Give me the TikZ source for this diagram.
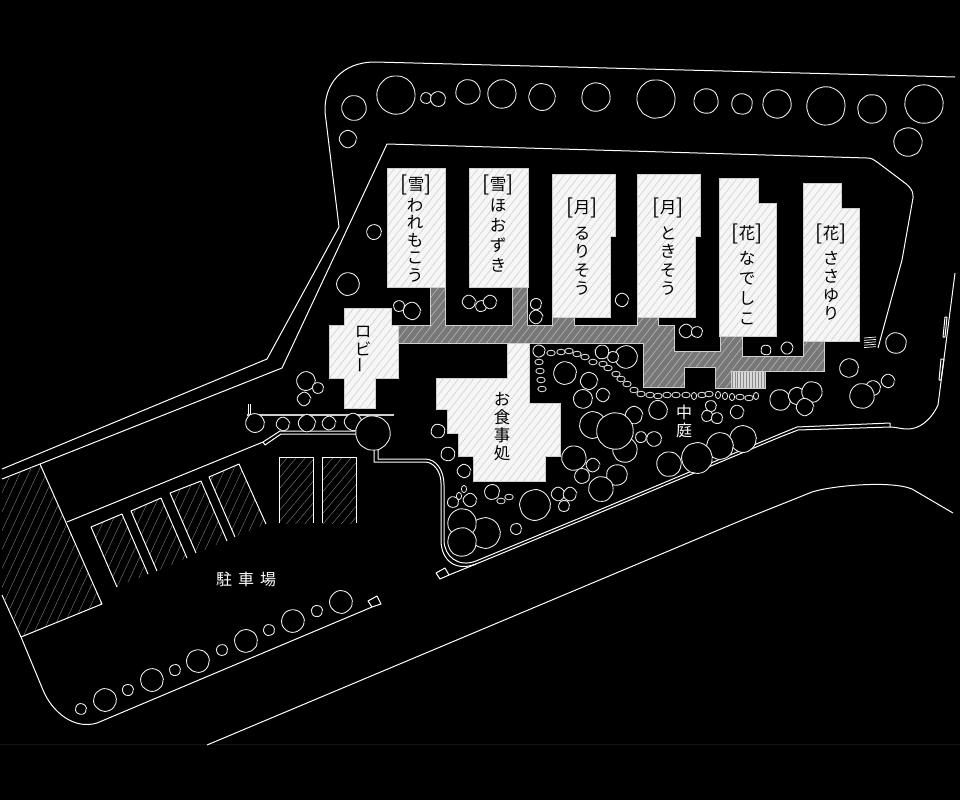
\documentclass[tikz,border=0pt]{standalone}
\usepackage{fontspec}
\setmainfont{Noto Sans CJK JP}
\usetikzlibrary{patterns.meta, decorations.pathmorphing}

\definecolor{wing}{HTML}{F6F6F6}
\definecolor{wingline}{HTML}{CFCFCF}
\definecolor{walk}{HTML}{777777}
\definecolor{walkline}{HTML}{B0B0B0}

\tikzset{
	wall/.style = {draw = white, line width = 1pt, line join = round},
	tree/.style = {draw = white!92!black, fill = black, line width = 0.9pt, rounded corners = 1pt,
		decorate, decoration = {random steps, segment length = 2.8pt, amplitude = 0.3pt}},
	stone/.style = {draw = white!92!black, fill = black, line width = 0.8pt},
	wing/.style = {draw = wingline, line width = 0.9pt,
		preaction = {fill = wing},
		pattern = {Lines[angle = 52, distance = 6pt, line width = 0.6pt]}, pattern color = wingline},
	walk/.style = {draw = wingline, line width = 0.9pt,
		preaction = {fill = walk},
		pattern = {Lines[angle = 52, distance = 6pt, line width = 0.7pt]}, pattern color = walkline},
	stall/.style = {pattern = {Lines[angle = 65, distance = 8pt, line width = 0.4pt]}, pattern color = gray},
	stallb/.style = {pattern = {Lines[angle = 50, distance = 7pt, line width = 0.4pt]}, pattern color = gray},
	label/.style = {text = black, font = \fontsize{16.5}{17.5}\selectfont, inner sep = 0pt, align = center},
	yard/.style = {text = white, font = \fontsize{16}{18}\selectfont, inner sep = 0pt, align = center}
}

\newcommand{\vbar}{\rotatebox{90}{ー}}
\newcommand{\tag}[1]{{\fontsize{21}{21}\selectfont\raisebox{-1pt}{[}}#1{\fontsize{21}{21}\selectfont\raisebox{-1pt}{]}}}

\begin{document}
\begin{tikzpicture}
[x = 1pt, y = -1pt]
\useasboundingbox (0, 0) rectangle (960, 800);
\fill [black] (0, 0) rectangle (960, 800);
\draw [black!92!white, line width = 0.4pt] (0, 744) -- (960, 744);

% site outline
\draw [wall] (955, 77) -- (375, 62) .. controls (342, 62) and (324, 84) .. (325, 112)
	-- (339, 227) -- (267, 359) -- (2, 469);
\draw [wall] (2, 479) -- (40, 464) -- (282, 368) -- (387, 144) -- (630, 151) -- (867, 158)
	.. controls (872, 158) and (874, 160) .. (877, 162) -- (897, 177)
	.. controls (906, 184) and (914, 188) .. (913, 198) -- (902, 260) -- (878, 348);
\draw [wall] (955, 273) -- (938, 405) .. controls (930, 422) and (918, 429) .. (908, 429)
	.. controls (900, 429) and (896, 427) .. (890, 427);
\draw [wall] (890, 423) -- (890, 427) -- (798, 430) -- (780, 437) -- (580, 521) -- (493, 557)
	-- (476, 564) .. controls (455, 572) and (441, 560) .. (441, 540) -- (441, 483)
	.. controls (441, 472) and (434, 462) .. (425, 462) -- (374, 462) -- (374, 448);
\draw [wall] (890, 423) -- (797, 427) -- (780, 434) -- (580, 518) -- (476, 561)
	.. controls (458, 568) and (444, 556) .. (444, 540) -- (444, 485)
	.. controls (444, 470) and (436, 459) .. (425, 459) -- (378, 459) -- (378, 448);
\draw [wall] (207, 745) -- (747, 518) -- (812, 492) .. controls (830, 486) and (890, 480) .. (912, 489)
	-- (953, 513);
\draw [wall] (2, 595) -- (21, 637) -- (43, 690) .. controls (52, 712) and (74, 730) .. (97, 723)
	-- (372, 607) -- (381, 604) -- (377, 596) -- (368, 601) -- (372, 607);
\draw [wall] (67, 522) -- (263, 442) -- (280, 431) -- (355, 431);
\draw [wall] (265, 445) -- (281, 434) -- (356, 434);
\draw [wall] (263, 442) -- (265, 445);
\draw [wall] (436, 573) -- (440, 579) -- (449, 575) -- (445, 568) -- cycle;
\draw [wall] (449, 575) -- (476, 564);
\draw [wall] (945, 317) -- (947, 317) -- (945, 337) -- (943, 337) -- cycle;
\draw [wall] (941, 359) -- (944, 359) -- (941, 380) -- (939, 380) -- cycle;
\draw [wall] (248, 404) -- (248, 415);
\draw [wall] (250, 404) -- (250, 415);
\draw [draw = wingline, line width = 2.8pt] (247, 415) -- (394, 415);

% parking
\fill [stall] (40, 464) -- (102, 604) -- (21, 637) -- (2, 595) -- (2, 479) -- cycle;
\draw [wall] (40, 464) -- (102, 604) -- (21, 637);
\foreach \a/\b/\c/\d/\e/\f/\g/\h in {91/527/122/514/148/574/117/587, 131/511/161/498/187/558/157/571,
	170/493/201/481/227/541/196/553, 209/477/239/464/266/524/235/537}{
	\fill [stall] (\a, \b) -- (\c, \d) -- (\e, \f) -- (\g, \h) -- cycle;
	\draw [wall] (\g, \h) -- (\a, \b) -- (\c, \d) -- (\e, \f);
}
\foreach \a in {279, 322}{
	\fill [stallb] (\a, 457) rectangle (\a + 34, 523);
	\draw [wall] (\a, 523) -- (\a, 457) -- (\a + 34, 457) -- (\a + 34, 523);
}

% covered walk and wings
\path [walk] (398, 325) -- (430, 325) -- (430, 287) -- (445, 287) -- (445, 325) -- (512, 325)
	-- (512, 287) -- (527, 287) -- (527, 325) -- (552, 325) -- (552, 317) -- (574, 317) -- (574, 325)
	-- (637, 325) -- (637, 317) -- (658, 317) -- (658, 325) -- (674, 325) -- (674, 351) -- (720, 351)
	-- (720, 336) -- (742, 336) -- (742, 356) -- (803, 356) -- (803, 341) -- (824, 341) -- (824, 371)
	-- (731, 371) -- (731, 388) -- (715, 388) -- (715, 367) -- (684, 367) -- (684, 387) -- (643, 387)
	-- (643, 343) -- (398, 343) -- cycle;
\fill [white!85!black] (731, 372) rectangle (765, 388);
\foreach \i in {0,...,11}{
	\draw [black!45!white, line width = 0.7pt] (732 + \i * 2.9, 372) -- (732 + \i * 2.9, 388);
}
\draw [wingline, line width = 0.9pt] (731, 371.5) rectangle (765, 388);
\foreach \i in {0,...,4}{
	\draw [white, line width = 0.7pt] (864, 338 + \i * 2.4) -- (876, 337 + \i * 2.4);
}

\path [wing] (387, 168) rectangle (445, 287);
\path [wing] (469, 168) rectangle (528, 287);
\path [wing] (552, 174) -- (615, 174) -- (615, 236) -- (610, 236) -- (610, 317) -- (552, 317) -- cycle;
\path [wing] (637, 174) -- (700, 174) -- (700, 236) -- (695, 236) -- (695, 317) -- (637, 317) -- cycle;
\path [wing] (719, 178) -- (758, 178) -- (758, 203) -- (776, 203) -- (776, 336) -- (719, 336) -- cycle;
\path [wing] (803, 183) -- (841, 183) -- (841, 208) -- (859, 208) -- (859, 341) -- (803, 341) -- cycle;
\path [wing] (344, 308) -- (391, 308) -- (391, 325) -- (398, 325) -- (398, 378) -- (375, 378) -- (375, 408)
	-- (344, 408) -- (344, 378) -- (329, 378) -- (329, 325) -- (344, 325) -- cycle;
\path [wing] (507, 343) -- (529, 343) -- (529, 403) -- (560, 403) -- (560, 456) -- (545, 456) -- (545, 481)
	-- (473, 481) -- (473, 456) -- (458, 456) -- (458, 433) -- (447, 433) -- (447, 409) -- (436, 409)
	-- (436, 378) -- (507, 378) -- cycle;

% trees
\foreach \x/\y/\r in {354/108/12, 348/139/8, 396/95/19, 426/98/5, 438/99/7, 468/92/12, 502/94/14, 542/97/13,
	596/97/14, 656/99/19, 706/101/12, 742/104/10, 777/104/14, 826/106/19, 872/109/14, 924/104/19, 908/142/14,
	374/232/7, 348/284/11, 399/306/5, 412/311/8, 469/302/6, 481/306/5, 490/302/6, 536/304/5, 536/317/6, 622/300/6,
	686/331/6, 697/332/5, 766/350/4.5, 787/348/5.5, 896/343/10, 849/368/9, 888/381/6, 873/388/7, 862/396/12,
	780/400/10, 797/396/8, 812/392/10, 805/407/8, 306/381/9, 318/388/5, 304/399/6,
	255/423/9, 283/424/6, 307/423/8, 329/423/6, 353/422/8, 373/433/17,
	81/709/5, 105/700/11, 128/690/5, 152/680/11, 175/670/5, 198/661/11, 222/650/5, 246/641/11, 269/630/5, 293/621/11,
	317/611/5, 341/602/11,
	539/351/5.5, 602/352/6.5, 626/357/11, 613/357/5, 565/373/11, 589/381/8, 583/399/9, 603/395/6, 658/410/9, 634/415/8,
	593/425/13, 625/450/12, 615/431/18, 641/437/5, 654/439/7, 711/406/5, 707/416/5, 717/418/5, 737/412/6,
	743/439/13, 720/446/13, 669/464/12, 697/458/15, 574/458/12, 593/465/6, 582/476/7, 617/475/10, 601/489/12,
	535/505/15, 558/494/6, 570/494/6, 564/506/5, 438/431/6.5, 448/454/6.5, 464/471/6, 453/502/5, 470/500/6, 492/492/7,
	516/529/5, 485/533/15, 462/523/14, 462/542/14}{
	\draw [tree] (\x, \y) circle (\r);
}
\foreach \x/\y in {551/353, 561/352, 569/351, 577/354, 585/357, 593/362, 603/364, 608/368, 616/374, 621/379, 627/384,
	634/390, 641/394, 650/395, 658/396, 667/395, 676/395, 686/395, 702/395, 709/394, 740/397, 749/398,
	539/362, 540/371, 541/380, 542/389, 501/501, 509/497}{
	\draw [stone] (\x, \y) ellipse (4.2 and 2.8);
}
\foreach \x/\y in {694/396, 718/395, 725/396, 732/397, 756/396, 464/489, 459/496}{
	\draw [stone] (\x, \y) ellipse (2.6 and 3.6);
}

% labels
\node [label] (yuki1) at (416, 185) {\tag{雪}};
\node [label] (wareko) at (415, 240) {わ\\れ\\も\\こ\\う};
\node [label] (yuki2) at (498, 185) {\tag{雪}};
\node [label] (hoozuki) at (498, 236) {ほ\\[2.5pt]お\\[2.5pt]ず\\[2.5pt]き};
\node [label] (tsuki1) at (582, 208) {\tag{月}};
\node [label] (ruriso) at (582, 261) {る\\[1pt]り\\[1pt]そ\\[1pt]う};
\node [label] (tsuki2) at (668, 208) {\tag{月}};
\node [label] (tokiso) at (668, 261) {と\\[1pt]き\\[1pt]そ\\[1pt]う};
\node [label] (hana1) at (747, 234) {\tag{花}};
\node [label] (nadeshiko) at (747, 288) {な\\[2.5pt]で\\[2.5pt]し\\[2.5pt]こ};
\node [label] (hana2) at (831, 234) {\tag{花}};
\node [label] (sasayuri) at (831, 286) {さ\\[1pt]さ\\[1pt]ゆ\\[1pt]り};
\node [label] (lobby) at (363, 350) {ロ\\ビ\\[1pt]\vbar};
\node [label] (shokuji) at (502, 427) {お\\[0.5pt]食\\[0.5pt]事\\[0.5pt]処};
\node [yard] (nakaniwa) at (684, 421) {中\\庭};
\node [yard] (parking) at (246, 579) {駐\hspace{6pt}車\hspace{6pt}場};
\end{tikzpicture}
\end{document}
